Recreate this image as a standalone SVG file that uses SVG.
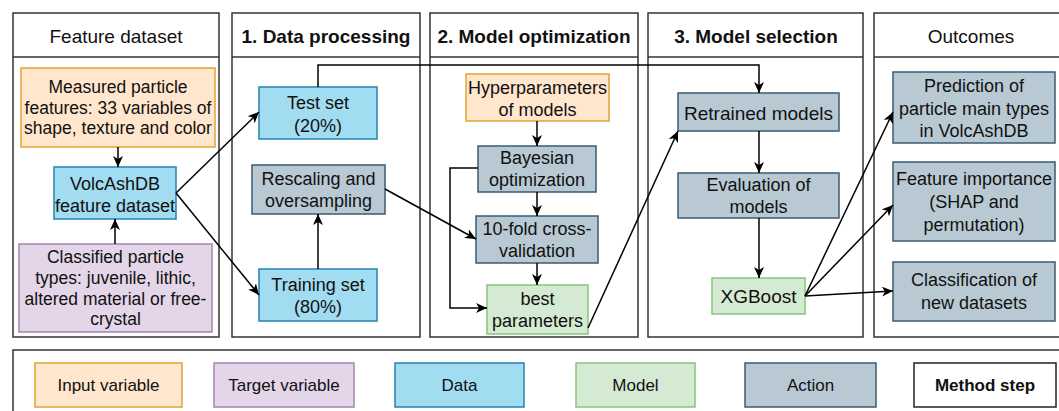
<svg xmlns="http://www.w3.org/2000/svg" width="1059" height="411" viewBox="0 0 1059 411">
  <defs>
    <marker id="arrow" markerUnits="userSpaceOnUse" markerWidth="12" markerHeight="10" refX="11" refY="5" orient="auto">
      <path d="M0,0 L11,5 L0,10 L3,5 z" fill="#000"/>
    </marker>
    <style>
      text { font-family: "Liberation Sans", Arial, sans-serif; font-size: 18px; fill: #111; text-anchor: middle; dominant-baseline: central; }
      .head { font-size: 19px; }
      .bold { font-weight: bold; }
      .big { font-size: 19px; }
      .small { font-size: 17.5px; }
      .panel { fill: #fff; stroke: #333; stroke-width: 1.5; }
      .input { fill: #ffe6cc; stroke: #e0a437; stroke-width: 1.5; }
      .target { fill: #e4d5e8; stroke: #a584b0; stroke-width: 1.5; }
      .data { fill: #a1dcf0; stroke: #2484b0; stroke-width: 1.5; }
      .model { fill: #d5ead3; stroke: #86c67c; stroke-width: 1.5; }
      .action { fill: #b8c9d4; stroke: #3b5b72; stroke-width: 1.5; }
      .step { fill: #fff; stroke: #222; stroke-width: 1.5; }
      .edge { fill: none; stroke: #000; stroke-width: 1.5; }
      .legend text { font-size: 17px; }
    </style>
  </defs>
  <rect width="1059" height="411" fill="#fff"/>

  <!-- method step panels -->
  <g id="panel-feature">
    <rect class="panel" x="13" y="13" width="206" height="324"/>
    <line class="panel" x1="13" y1="57" x2="219" y2="57"/>
    <text class="head" x="116" y="36">Feature dataset</text>
  </g>
  <g id="panel-processing">
    <rect class="panel" x="232" y="13" width="188" height="324"/>
    <line class="panel" x1="232" y1="57" x2="420" y2="57"/>
    <text class="head bold" x="326" y="36">1. Data processing</text>
  </g>
  <g id="panel-optimization">
    <rect class="panel" x="430" y="13" width="208" height="324"/>
    <line class="panel" x1="430" y1="57" x2="638" y2="57"/>
    <text class="head bold" x="534" y="36">2. Model optimization</text>
  </g>
  <g id="panel-selection">
    <rect class="panel" x="648" y="13" width="215" height="324"/>
    <line class="panel" x1="648" y1="57" x2="863" y2="57"/>
    <text class="head bold" x="756" y="36">3. Model selection</text>
  </g>
  <g id="panel-outcomes">
    <rect class="panel" x="874" y="13" width="200" height="324"/>
    <line class="panel" x1="874" y1="57" x2="1074" y2="57"/>
    <text class="head" x="971" y="36">Outcomes</text>
  </g>

  <!-- nodes -->
  <g id="measured-features" class="small">
    <rect class="input" x="21" y="68" width="194" height="79"/>
    <text class="small" x="118" y="87">Measured particle</text>
    <text class="small" x="118" y="107.5">features: 33 variables of</text>
    <text class="small" x="118" y="128">shape, texture and color</text>
  </g>
  <g id="volcashdb">
    <rect class="data" x="54" y="167" width="122" height="52"/>
    <text x="115" y="184">VolcAshDB</text>
    <text x="115" y="206">feature dataset</text>
  </g>
  <g id="classified-types">
    <rect class="target" x="19" y="244" width="193" height="88"/>
    <text class="small" x="115.5" y="257">Classified particle</text>
    <text class="small" x="115.5" y="278">types: juvenile, lithic,</text>
    <text class="small" x="115.5" y="299">altered material or free-</text>
    <text class="small" x="115.5" y="319">crystal</text>
  </g>
  <g id="test-set">
    <rect class="data" x="259" y="87" width="118" height="52"/>
    <text x="318" y="103">Test set</text>
    <text x="318" y="126">(20%)</text>
  </g>
  <g id="rescaling">
    <rect class="action" x="252" y="165" width="133" height="49"/>
    <text x="318.5" y="179">Rescaling and</text>
    <text x="318.5" y="201">oversampling</text>
  </g>
  <g id="training-set">
    <rect class="data" x="259" y="269" width="118" height="52"/>
    <text x="318" y="285">Training set</text>
    <text x="318" y="307">(80%)</text>
  </g>
  <g id="hyperparameters">
    <rect class="input" x="466" y="74" width="143" height="47"/>
    <text x="537.5" y="88">Hyperparameters</text>
    <text x="537.5" y="110">of models</text>
  </g>
  <g id="bayesian">
    <rect class="action" x="478" y="146" width="118" height="46"/>
    <text x="537" y="158">Bayesian</text>
    <text x="537" y="180">optimization</text>
  </g>
  <g id="cross-validation">
    <rect class="action" x="476" y="216" width="122" height="47"/>
    <text x="537" y="229">10-fold cross-</text>
    <text x="537" y="251">validation</text>
  </g>
  <g id="best-parameters">
    <rect class="model" x="487" y="285" width="101" height="49"/>
    <text x="537.5" y="299">best</text>
    <text x="537.5" y="321">parameters</text>
  </g>
  <g id="retrained">
    <rect class="action" x="678" y="93" width="161" height="38"/>
    <text class="big" x="758.5" y="113">Retrained models</text>
  </g>
  <g id="evaluation">
    <rect class="action" x="678" y="173" width="161" height="45"/>
    <text x="758.5" y="185">Evaluation of</text>
    <text x="758.5" y="207">models</text>
  </g>
  <g id="xgboost">
    <rect class="model" x="712" y="278" width="93" height="36"/>
    <text class="big" x="758.5" y="296">XGBoost</text>
  </g>
  <g id="prediction">
    <rect class="action" x="893" y="72" width="162" height="71"/>
    <text x="974" y="86">Prediction of</text>
    <text x="974" y="109">particle main types</text>
    <text x="974" y="131">in VolcAshDB</text>
  </g>
  <g id="feature-importance">
    <rect class="action" x="893" y="162" width="162" height="79"/>
    <text x="974" y="179">Feature importance</text>
    <text x="974" y="202">(SHAP and</text>
    <text x="974" y="225">permutation)</text>
  </g>
  <g id="classification">
    <rect class="action" x="893" y="262" width="162" height="59"/>
    <text x="974" y="280">Classification of</text>
    <text x="974" y="303">new datasets</text>
  </g>

  <!-- connectors -->
  <g id="connectors">
    <path class="edge" d="M118,147 L118,167" marker-end="url(#arrow)"/>
    <path class="edge" d="M115,244 L115,219" marker-end="url(#arrow)"/>
    <path class="edge" d="M176,193 L259,112" marker-end="url(#arrow)"/>
    <path class="edge" d="M176,193 L259,295" marker-end="url(#arrow)"/>
    <path class="edge" d="M318,269 L318,214" marker-end="url(#arrow)"/>
    <path class="edge" d="M318,87 L318,65 L759,65 L759,93" marker-end="url(#arrow)"/>
    <path class="edge" d="M385,189 L476,239" marker-end="url(#arrow)"/>
    <path class="edge" d="M537,121 L537,146" marker-end="url(#arrow)"/>
    <path class="edge" d="M537,192 L537,216" marker-end="url(#arrow)"/>
    <path class="edge" d="M537,263 L537,285" marker-end="url(#arrow)"/>
    <path class="edge" d="M478,168 L450,168 L450,308 L487,308" marker-end="url(#arrow)"/>
    <path class="edge" d="M588,328 L678,131" marker-end="url(#arrow)"/>
    <path class="edge" d="M759,131 L759,173" marker-end="url(#arrow)"/>
    <path class="edge" d="M759,218 L759,278" marker-end="url(#arrow)"/>
    <path class="edge" d="M805,296 L893,112" marker-end="url(#arrow)"/>
    <path class="edge" d="M805,296 L893,205" marker-end="url(#arrow)"/>
    <path class="edge" d="M805,296 L893,291" marker-end="url(#arrow)"/>
  </g>

  <!-- legend -->
  <g id="legend" class="legend">
    <rect class="panel" x="13" y="350" width="1060" height="70"/>
    <rect class="input" x="35" y="363" width="147" height="44"/>
    <text x="108.5" y="385">Input variable</text>
    <rect class="target" x="214" y="363" width="140" height="44"/>
    <text x="284" y="385">Target variable</text>
    <rect class="data" x="395" y="363" width="129" height="44"/>
    <text x="459.5" y="385">Data</text>
    <rect class="model" x="576" y="363" width="119" height="44"/>
    <text x="635.5" y="385">Model</text>
    <rect class="action" x="745" y="363" width="131" height="44"/>
    <text x="810.5" y="385">Action</text>
    <rect class="step" x="914" y="363" width="142" height="44"/>
    <text class="bold" x="985" y="385">Method step</text>
  </g>
</svg>
